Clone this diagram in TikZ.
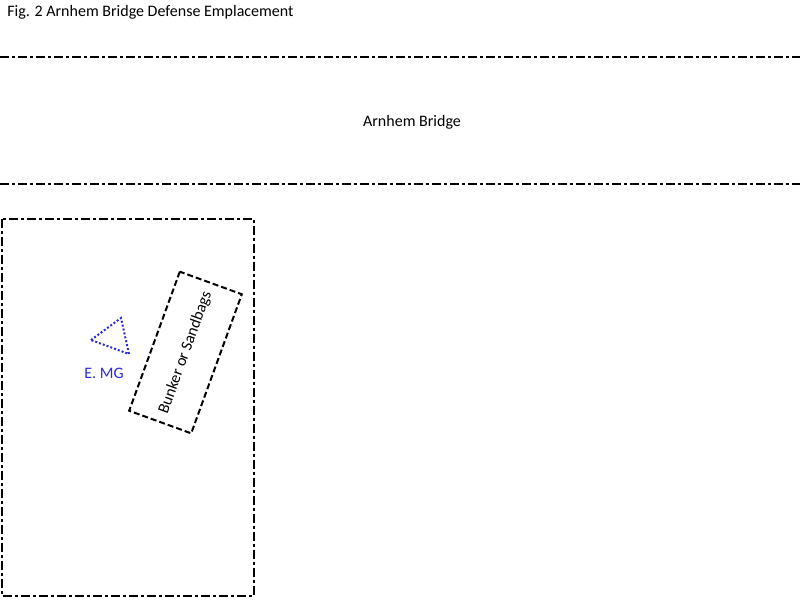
\documentclass[tikz,border=0pt]{standalone}
\usepackage{fontspec}
\setmainfont{Carlito}
\definecolor{mgblue}{RGB}{40,40,230}
\tikzset{
  dashdot/.style={line width=1.5pt, dash pattern=on 6.75pt off 2.25pt on 2.25pt off 2.25pt},
  bunkerbox/.style={draw, line width=1.5pt, dash pattern=on 4.5pt off 2.25pt, rotate=70,
    minimum width=148*0.75pt, minimum height=66*0.75pt, inner sep=0pt},
  label/.style={font=\fontsize{12}{14}\selectfont, inner sep=0pt}
}
\begin{document}
\begin{tikzpicture}[x=0.75pt,y=-0.75pt]
\useasboundingbox (0,0) rectangle (800,600);

% Title
\node[label, anchor=west] (title) at (7,12) {Fig. 2 Arnhem Bridge Defense Emplacement};

% Bridge
\draw[dashdot] (0,57) -- (800,57);
\draw[dashdot] (0,184) -- (800,184);
\node[label] (bridge) at (412,122) {Arnhem Bridge};

% Building
\draw[dashdot] (2,219) rectangle (254,596);

% Bunker
\node[bunkerbox, label] (bunker) at (185.5,352.5) {Bunker or Sandbags};

% E. MG
\draw[mgblue, line width=1.5pt, dash pattern=on 1.5pt off 1.5pt] (91,340) -- (121,318) -- (129,354) -- cycle;
\node[label, text=mgblue] (mg) at (104,373) {E. MG};

\end{tikzpicture}
\end{document}
